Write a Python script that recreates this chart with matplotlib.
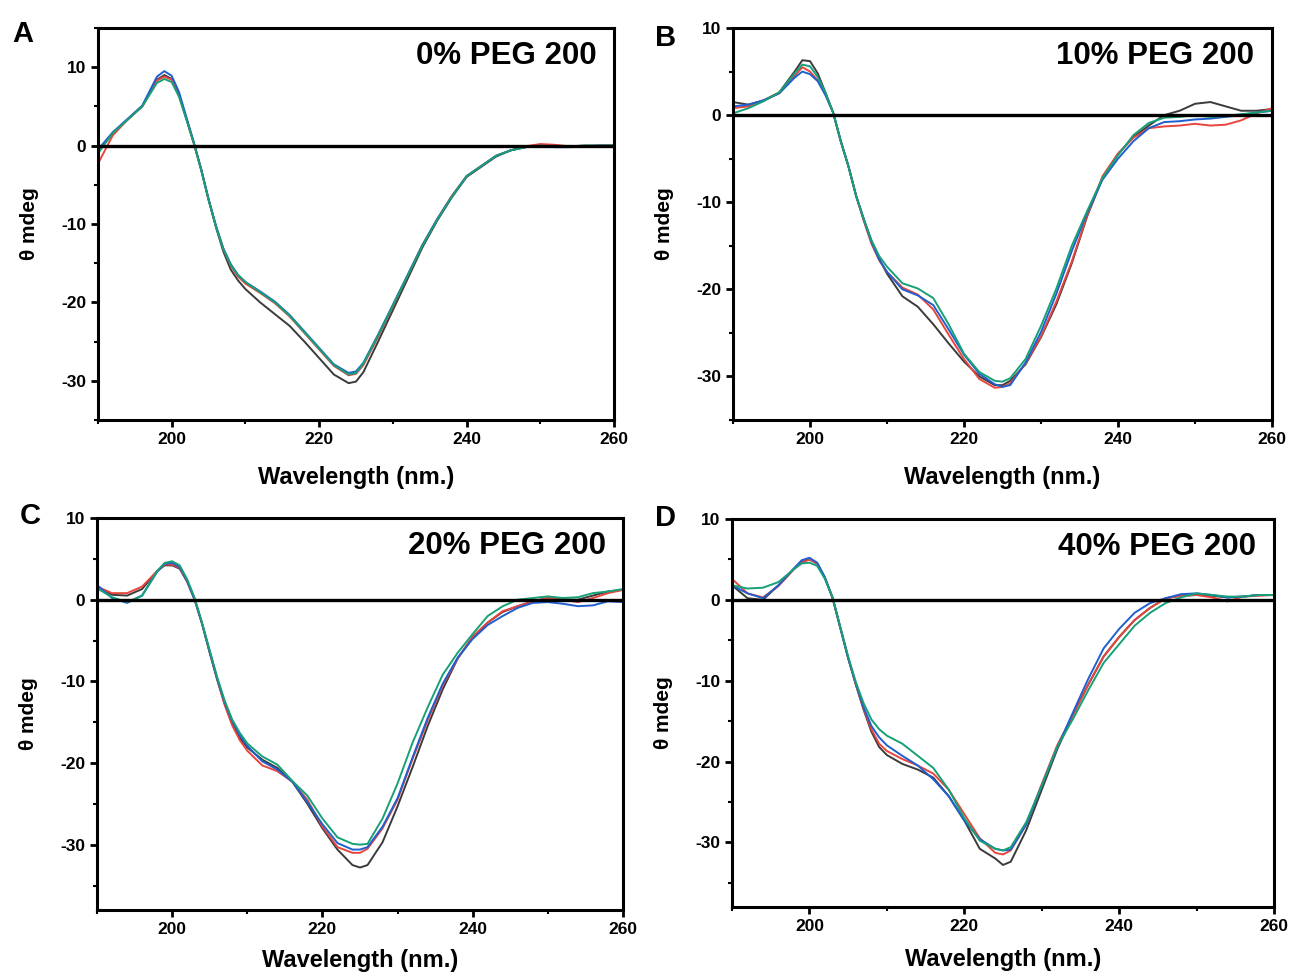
import matplotlib
matplotlib.use("Agg")
import matplotlib.pyplot as plt
from matplotlib.ticker import MultipleLocator

plt.rcParams['font.family'] = ['Liberation Sans', 'DejaVu Sans']
plt.rcParams['font.weight'] = 'bold'
plt.rcParams['axes.unicode_minus'] = False

# wavelength grid (nm)
wl = [190, 192, 194, 196, 198, 199, 200, 201, 202, 203, 204, 205, 206, 207, 208, 209, 210,
      212, 214, 216, 218, 220, 222, 224, 225, 226, 228, 230, 232, 234, 236, 238, 240,
      242, 244, 246, 248, 250, 252, 254, 256, 258, 260]

# panel A - 0% PEG 200
a_black = [-0.8, 1.6, 3.3, 5.0, 8.4, 9.0, 8.5, 6.4, 3.4, 0.3, -3.1, -6.9, -10.4, -13.5, -15.8, -17.2, -18.3,
           -20.0, -21.5, -23.0, -25.0, -27.1, -29.2, -30.3, -30.1, -28.9, -25.0, -21.0, -17.0, -13.0, -9.6, -6.6, -4.0,
           -2.7, -1.4, -0.6, -0.2, 0.0, -0.1, -0.1, 0.0, 0.0, 0.0]
a_red = [-2.3, 1.3, 3.3, 5.0, 8.3, 8.8, 8.4, 6.4, 3.4, 0.3, -3.1, -6.9, -10.3, -13.2, -15.3, -16.7, -17.6,
         -18.8, -20.1, -21.8, -23.9, -26.0, -28.1, -29.3, -29.1, -28.0, -24.4, -20.5, -16.6, -12.7, -9.4, -6.4, -3.9,
         -2.6, -1.3, -0.6, -0.1, 0.2, 0.1, -0.1, -0.1, 0.0, 0.0]
a_blue = [-0.5, 1.7, 3.4, 5.1, 8.8, 9.5, 8.9, 6.8, 3.6, 0.4, -3.0, -6.8, -10.2, -13.1, -15.1, -16.5, -17.4,
          -18.6, -19.9, -21.6, -23.7, -25.8, -27.9, -29.0, -28.8, -27.7, -24.1, -20.3, -16.5, -12.7, -9.4, -6.5, -3.9,
          -2.6, -1.3, -0.6, -0.2, -0.1, -0.2, -0.2, -0.1, 0.0, 0.0]
a_green = [-1.0, 1.6, 3.3, 5.0, 8.0, 8.5, 8.1, 6.2, 3.3, 0.3, -3.1, -6.9, -10.3, -13.2, -15.2, -16.5, -17.4,
           -18.7, -20.0, -21.7, -23.8, -25.9, -28.0, -29.2, -29.0, -27.8, -24.2, -20.4, -16.6, -12.8, -9.5, -6.5, -3.9,
           -2.6, -1.3, -0.6, -0.2, 0.0, -0.1, -0.1, 0.0, 0.0, 0.0]

# panel B - 10% PEG 200
b_black = [1.5, 1.2, 1.7, 2.6, 5.0, 6.3, 6.2, 4.8, 2.6, 0.3, -3.0, -5.9, -9.3, -12.0, -14.5, -16.5, -18.2,
           -20.8, -22.0, -24.0, -26.2, -28.3, -30.0, -31.0, -31.0, -30.5, -28.6, -25.5, -21.7, -17.0, -11.6, -7.2, -4.5,
           -2.5, -1.2, 0.0, 0.5, 1.3, 1.5, 1.0, 0.5, 0.5, 0.7]
b_red = [0.8, 1.0, 1.7, 2.5, 4.5, 5.5, 5.0, 4.0, 2.4, 0.3, -3.0, -5.9, -9.3, -12.2, -14.8, -16.7, -18.0,
         -19.8, -20.6, -22.3, -25.2, -28.0, -30.3, -31.3, -31.2, -30.8, -28.5, -25.4, -21.4, -16.8, -11.5, -7.0, -4.4,
         -2.6, -1.5, -1.3, -1.2, -1.0, -1.2, -1.1, -0.6, 0.2, 0.8]
b_blue = [1.0, 1.2, 1.7, 2.5, 4.3, 5.0, 4.7, 3.9, 2.3, 0.3, -3.0, -5.9, -9.3, -12.0, -14.6, -16.6, -18.0,
          -20.0, -20.7, -21.8, -24.6, -27.5, -29.7, -30.9, -31.2, -31.0, -28.4, -24.9, -20.5, -15.6, -11.2, -7.4, -5.0,
          -3.0, -1.5, -0.8, -0.7, -0.5, -0.4, -0.2, 0.0, 0.3, 0.5]
b_green = [0.2, 0.8, 1.6, 2.6, 4.8, 5.8, 5.6, 4.4, 2.6, 0.3, -3.0, -5.9, -9.3, -12.0, -14.4, -16.2, -17.4,
           -19.3, -19.9, -21.0, -24.0, -27.4, -29.5, -30.5, -30.6, -30.2, -28.0, -24.2, -19.9, -15.0, -11.0, -7.2, -4.6,
           -2.3, -0.9, -0.3, -0.2, 0.0, -0.2, -0.1, 0.1, 0.3, 0.5]

# panel C - 20% PEG 200
c_black = [1.6, 0.6, 0.5, 1.3, 3.5, 4.2, 4.2, 3.8, 2.2, 0.0, -3.0, -6.5, -9.8, -12.8, -15.2, -16.9, -18.1,
           -19.6, -20.6, -22.3, -25.0, -28.0, -30.6, -32.5, -32.8, -32.5, -29.7, -25.3, -20.5, -15.5, -11.0, -7.2, -4.6,
           -2.8, -1.5, -0.8, -0.2, 0.2, 0.0, 0.0, 0.5, 1.0, 1.2]
c_red = [1.6, 0.8, 0.8, 1.6, 3.5, 4.3, 4.3, 3.9, 2.2, 0.0, -3.0, -6.4, -9.8, -12.9, -15.4, -17.2, -18.5,
         -20.3, -21.0, -22.3, -24.5, -27.8, -30.3, -31.0, -31.0, -30.5, -28.0, -24.5, -19.5, -14.8, -10.5, -7.2, -4.5,
         -2.8, -1.4, -0.8, -0.2, 0.2, 0.0, -0.3, 0.2, 0.8, 1.2]
c_blue = [1.8, 0.2, -0.4, 0.5, 3.4, 4.4, 4.5, 4.0, 2.3, 0.0, -3.0, -6.4, -9.7, -12.6, -14.9, -16.6, -17.9,
          -19.8, -20.8, -22.3, -24.8, -27.5, -29.8, -30.6, -30.6, -30.3, -27.8, -24.3, -19.3, -14.5, -10.3, -7.1, -4.8,
          -3.1, -2.0, -1.0, -0.4, -0.3, -0.5, -0.8, -0.7, -0.2, -0.3]
c_green = [1.4, 0.3, -0.3, 0.5, 3.5, 4.5, 4.7, 4.2, 2.5, 0.2, -2.9, -6.2, -9.5, -12.4, -14.7, -16.3, -17.6,
           -19.2, -20.2, -22.2, -24.0, -26.8, -29.1, -29.9, -30.0, -29.9, -26.8, -22.5, -17.5, -13.2, -9.2, -6.5, -4.2,
           -2.0, -0.8, 0.0, 0.2, 0.4, 0.2, 0.3, 0.8, 1.0, 1.3]

# panel D - 40% PEG 200
d_black = [1.8, 0.2, 0.0, 1.8, 3.8, 4.7, 5.0, 4.5, 2.7, 0.2, -3.5, -7.2, -10.5, -13.6, -16.3, -18.2, -19.2,
           -20.3, -21.0, -22.0, -24.3, -27.3, -30.8, -32.0, -32.8, -32.4, -28.5, -23.5, -18.5, -14.3, -10.5, -7.0, -4.6,
           -2.5, -1.0, 0.2, 0.5, 0.6, 0.5, 0.3, 0.4, 0.6, 0.6]
d_red = [2.6, 0.8, 0.3, 1.7, 3.8, 4.6, 5.0, 4.5, 2.7, 0.2, -3.5, -7.2, -10.5, -13.5, -16.0, -17.8, -18.7,
         -19.7, -20.5, -21.5, -23.5, -26.5, -29.5, -31.3, -31.5, -31.0, -27.8, -22.8, -18.0, -14.3, -10.5, -7.0, -4.6,
         -2.5, -1.0, 0.2, 0.5, 0.6, 0.3, -0.2, 0.4, 0.5, 0.6]
d_blue = [1.8, 0.8, 0.2, 1.8, 3.9, 4.9, 5.2, 4.6, 2.8, 0.2, -3.5, -7.2, -10.4, -13.3, -15.6, -17.0, -18.0,
          -19.3, -20.5, -22.2, -24.3, -27.3, -29.6, -30.8, -31.0, -30.9, -27.8, -23.0, -18.3, -14.0, -9.8, -6.0, -3.6,
          -1.6, -0.4, 0.2, 0.7, 0.8, 0.6, 0.3, 0.4, 0.6, 0.6]
d_green = [1.8, 1.4, 1.5, 2.2, 3.8, 4.5, 4.6, 4.2, 2.6, 0.3, -3.4, -7.0, -10.2, -12.8, -14.8, -16.0, -16.8,
           -17.8, -19.3, -20.8, -23.5, -27.0, -29.8, -30.8, -31.0, -30.6, -27.5, -23.0, -18.2, -14.8, -11.2, -7.8, -5.5,
           -3.2, -1.6, -0.4, 0.3, 0.8, 0.6, 0.4, 0.4, 0.6, 0.6]

panel_letters = ['A', 'B', 'C', 'D']
titles = ['0% PEG 200', '10% PEG 200', '20% PEG 200', '40% PEG 200']
ylims = [(-35, 15), (-35, 10), (-38, 10), (-38, 10)]
series = [
    [a_black, a_red, a_blue, a_green],
    [b_black, b_red, b_blue, b_green],
    [c_black, c_red, c_blue, c_green],
    [d_black, d_red, d_blue, d_green],
]
colors = ['#3b3b3b', '#e8453c', '#1f5fcf', '#17a077']

W, H = 1294, 976
# axes boxes in pixels: left, top, right, bottom
boxes = [(98, 28, 614, 420), (733, 28, 1272, 420), (97, 518, 623, 910), (732, 519, 1274, 907)]
letter_pos = [(12, 42), (655, 46), (20, 524), (655, 526)]
xlabel_pads = [14, 14, 9, 10]

fig = plt.figure(figsize=(W / 100, H / 100), dpi=100)

for i in range(4):
    l, t, r, b = boxes[i]
    ax = fig.add_axes([l / W, 1 - b / H, (r - l) / W, (b - t) / H])
    for ys, c in zip(series[i], colors):
        ax.plot(wl, ys, color=c, lw=1.4)
    ax.axhline(0, color='black', lw=2.4)
    ax.set_xlim(190, 260)
    ax.set_ylim(*ylims[i])
    ax.xaxis.set_major_locator(MultipleLocator(20))
    ax.xaxis.set_minor_locator(MultipleLocator(10))
    ax.yaxis.set_major_locator(MultipleLocator(10))
    ax.yaxis.set_minor_locator(MultipleLocator(5))
    ax.tick_params(which='major', direction='out', length=5, width=2, labelsize=12.5)
    ax.tick_params(which='minor', direction='out', length=3, width=1.5)
    for s in ax.spines.values():
        s.set_linewidth(2.2)
    for lab in ax.get_xticklabels() + ax.get_yticklabels():
        lab.set_fontweight('bold')
    ax.set_xlabel('Wavelength (nm.)', fontsize=17, fontweight='bold', labelpad=xlabel_pads[i])
    ax.set_ylabel('θ mdeg', fontsize=15, fontweight='bold', labelpad=16)
    ax.text(0.967, 0.928, titles[i], transform=ax.transAxes, ha='right', va='center',
            fontsize=22.5, fontweight='bold')
    fig.text(letter_pos[i][0] / W, 1 - letter_pos[i][1] / H, panel_letters[i],
             fontsize=21, fontweight='bold', ha='left', va='baseline')

fig.savefig('out.png', dpi=100)
